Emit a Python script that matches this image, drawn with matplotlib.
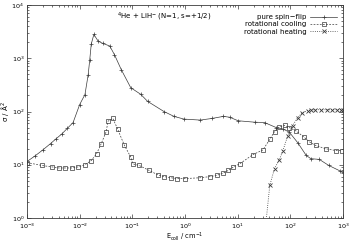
import numpy as np
import matplotlib
matplotlib.use('Agg')
import matplotlib.pyplot as plt
import matplotlib.ticker as ticker

# pure spin-flip
e_flip = [0.001, 0.0014, 0.002, 0.0028, 0.0036, 0.0046, 0.0058, 0.0075, 0.0100,
          0.0126, 0.0145, 0.0155, 0.0166, 0.0186, 0.0224, 0.0275, 0.0372, 0.0457,
          0.0617, 0.0933, 0.1445, 0.195, 0.398, 0.617, 0.955, 1.95, 3.24, 5.37,
          7.08, 10.2, 20.9, 32.4, 53.7, 72.4, 95.5, 138, 200, 245, 355, 537, 891, 1000]
s_flip = [11.5, 14.5, 19, 25, 31, 38, 48, 62, 135,
          208, 490, 910, 1850, 2800, 2100, 1900, 1700, 1170,
          610, 280, 210, 155, 100, 81, 72, 69, 74, 81,
          78, 67, 63, 62, 50, 47, 41, 26, 15, 13, 12.6, 9.7, 7.6, 7.3]

# rotational cooling
e_cool = [0.001, 0.0019, 0.003, 0.004, 0.0052, 0.0071, 0.0093, 0.0126, 0.0166,
          0.0209, 0.0257, 0.0316, 0.0347, 0.0427, 0.0525, 0.0708, 0.0933, 0.102,
          0.135, 0.209, 0.302, 0.398, 0.537, 0.708, 1.0, 1.95, 3.02, 3.98,
          5.37, 6.61, 8.32, 10.9, 19.5, 30.2, 40.7, 50.1, 61.7, 77.6, 95.5,
          129, 182, 229, 302, 468, 724, 955]
s_cool = [11, 9.7, 9.1, 8.7, 8.7, 8.7, 9.1, 10, 12,
          16, 25, 41, 66, 74, 47, 23, 14, 10.4,
          9.7, 7.8, 6.5, 6.0, 5.7, 5.5, 5.5, 5.7, 6.0, 6.3,
          7.0, 7.8, 9.1, 10.4, 15.5, 19, 30, 42, 51, 55, 50,
          43, 33, 27, 23, 20, 18.5, 18.5]

# rotational heating
e_heat = [31, 40.7, 50.1, 61.7, 72.4, 89.1, 110, 138, 170, 214, 245, 300, 380,
          500, 620, 760, 900, 1000]
s_heat = [0.3, 4.1, 8.5, 12.4, 18.5, 35, 54, 77, 95, 104, 106, 108, 108,
          108, 108, 108, 108, 108]

plt.rcParams['font.family'] = 'DejaVu Sans'
plt.rcParams['font.size'] = 5
plt.rcParams['mathtext.default'] = 'regular'

fig = plt.figure(figsize=(3.5, 2.4), dpi=100)
ax = fig.add_axes([27/350, 1 - 218/240, 316/350, 213/240])

lc = '#3a3a3a'
ax.plot(e_flip, s_flip, '-', color=lc, lw=0.5, marker='+', ms=3.2, mew=0.5,
        label='pure spin\u2212flip')
ax.plot(e_cool, s_cool, '--', color=lc, lw=0.5, marker='s', ms=2.6, mew=0.5,
        mfc='none', dashes=(2.5, 2), label='rotational cooling')
ax.plot(e_heat, s_heat, ':', color=lc, lw=0.6, marker='x', ms=2.4, mew=0.6,
        label='rotational heating')

ax.set_xscale('log')
ax.set_yscale('log')
ax.set_xlim(1e-3, 1e3)
ax.set_ylim(1, 1e4)

ax.xaxis.set_major_locator(ticker.LogLocator(base=10, numticks=10))
ax.yaxis.set_major_locator(ticker.LogLocator(base=10, numticks=10))
ax.xaxis.set_minor_locator(ticker.LogLocator(base=10, subs=np.arange(2, 10), numticks=20))
ax.yaxis.set_minor_locator(ticker.LogLocator(base=10, subs=np.arange(2, 10), numticks=20))
ax.xaxis.set_minor_formatter(ticker.NullFormatter())
ax.yaxis.set_minor_formatter(ticker.NullFormatter())

ax.tick_params(which='both', direction='in', top=True, right=True, color=lc,
               width=0.5, labelsize=4.6)
ax.tick_params(axis='x', pad=3)
ax.tick_params(axis='y', pad=2)
ax.tick_params(which='major', length=3)
ax.tick_params(which='minor', length=1.5)
for sp in ax.spines.values():
    sp.set_linewidth(0.6)
    sp.set_color(lc)

ax.set_xlabel('E$_{coll}$ / cm$^{-1}$', va='top', fontsize=4.8)
ax.set_ylabel('\u03c3 / \u00c5$^2$')
ax.xaxis.set_label_coords(0.5, -0.057)
ax.yaxis.set_label_coords(-0.05, 0.5)

ax.text(0.285, 0.945, '$^{4}$He + LiH$^{-}$ (N=1, s=+1/2)', transform=ax.transAxes,
        ha='left', va='center')

ax.legend(loc='upper right', frameon=False, markerfirst=False, handlelength=3.8,
          handletextpad=0.6, labelspacing=0.15, borderaxespad=0.5,
          bbox_to_anchor=(1.0, 0.985))

fig.savefig('out.png', dpi=100)
